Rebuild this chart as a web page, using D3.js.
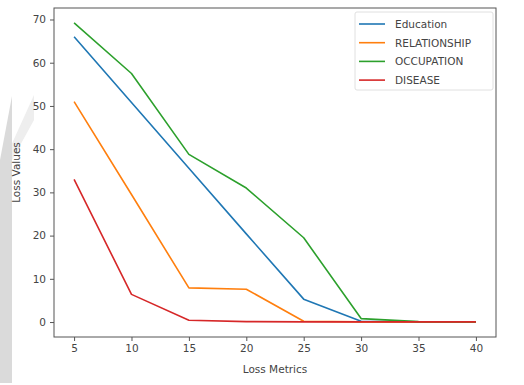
<!DOCTYPE html>
<html>
<head>
<meta charset="utf-8">
<script src="https://cdn.jsdelivr.net/npm/d3@7"></script>
<style>
  html, body { margin: 0; padding: 0; background: #fff; }
  svg { display: block; font-family: "DejaVu Sans", sans-serif; }
</style>
</head>
<body>
<div id="chart"></div>
<script>
// x positions (epochs / metric steps)
var lossMetrics = [5, 10, 15, 20, 25, 30, 35, 40];

// series values
var education = [66, 50.8, 35.6, 20.4, 5.3, 0.2, 0.05, 0.05];
var relationship = [51, 29.5, 7.9, 7.6, 0.2, 0.05, 0.05, 0.05];
var occupation = [69.2, 57.5, 38.8, 31, 19.5, 0.8, 0.1, 0.05];
var disease = [33, 6.4, 0.4, 0.1, 0.05, 0.05, 0.05, 0.05];

var seriesNames = ['Education', 'RELATIONSHIP', 'OCCUPATION', 'DISEASE'];
var seriesValues = [education, relationship, occupation, disease];
var seriesColors = ['#1f77b4', '#ff7f0e', '#2ca02c', '#d62728'];

var xTicks = [5, 10, 15, 20, 25, 30, 35, 40];
var yTicks = [0, 10, 20, 30, 40, 50, 60, 70];

var W = 524, H = 385;
var margin = { top: 8, right: 28, bottom: 48, left: 54 };
var width = W - margin.left - margin.right;
var height = H - margin.top - margin.bottom;

var svg = d3.select('#chart').append('svg')
  .attr('width', W).attr('height', H);

// faint grey watermark shape on the left edge
svg.append('polygon')
  .attr('points', '0,170 34,95 34,120 12,160 0,190')
  .attr('fill', '#eeeeee');
svg.append('polygon')
  .attr('points', '0,160 12,96 12,383 0,383')
  .attr('fill', '#dadada');

var g = svg.append('g').attr('transform', 'translate(' + margin.left + ',' + margin.top + ')');

var x = d3.scaleLinear().domain([3.25, 41.75]).range([0, width]);
var y = d3.scaleLinear().domain([-3.46, 72.66]).range([height, 0]);

// lines
var line = d3.line()
  .x(function(d, i) { return x(lossMetrics[i]); })
  .y(function(d) { return y(d); });

seriesValues.forEach(function(vals, i) {
  g.append('path')
    .datum(vals)
    .attr('fill', 'none')
    .attr('stroke', seriesColors[i])
    .attr('stroke-width', 1.6)
    .attr('stroke-linejoin', 'round')
    .attr('d', line);
});

// axes
var xAxis = g.append('g').attr('transform', 'translate(0,' + height + ')')
  .call(d3.axisBottom(x).tickValues(xTicks).tickSize(4).tickPadding(4));
var yAxis = g.append('g')
  .call(d3.axisLeft(y).tickValues(yTicks).tickSize(4).tickPadding(4));
[xAxis, yAxis].forEach(function(ax) {
  ax.select('.domain').remove();
  ax.selectAll('line').attr('stroke', '#555');
  ax.selectAll('text').attr('fill', '#444').attr('font-size', '10.5px')
    .attr('font-family', '"DejaVu Sans", sans-serif');
});

// frame
g.append('rect')
  .attr('width', width).attr('height', height)
  .attr('fill', 'none').attr('stroke', '#555').attr('stroke-width', 1);

// axis labels
svg.append('text')
  .attr('x', margin.left + width / 2).attr('y', 373)
  .attr('text-anchor', 'middle').attr('fill', '#444').attr('font-size', '10.5px')
  .text('Loss Metrics');
svg.append('text')
  .attr('transform', 'translate(20,' + (margin.top + height / 2) + ') rotate(-90)')
  .attr('text-anchor', 'middle').attr('fill', '#444').attr('font-size', '10.5px')
  .text('Loss Values');

// legend
var legend = svg.append('g').attr('transform', 'translate(355,12)');
legend.append('rect')
  .attr('width', 138).attr('height', 78).attr('rx', 2)
  .attr('fill', '#fff').attr('stroke', '#e0e0e0');
seriesNames.forEach(function(name, i) {
  var ly = 12 + i * 18.7;
  legend.append('line')
    .attr('x1', 4).attr('x2', 30).attr('y1', ly).attr('y2', ly)
    .attr('stroke', seriesColors[i]).attr('stroke-width', 1.6);
  legend.append('text')
    .attr('x', 40).attr('y', ly + 4)
    .attr('fill', '#444').attr('font-size', '10.5px')
    .text(name);
});
</script>
</body>
</html>
